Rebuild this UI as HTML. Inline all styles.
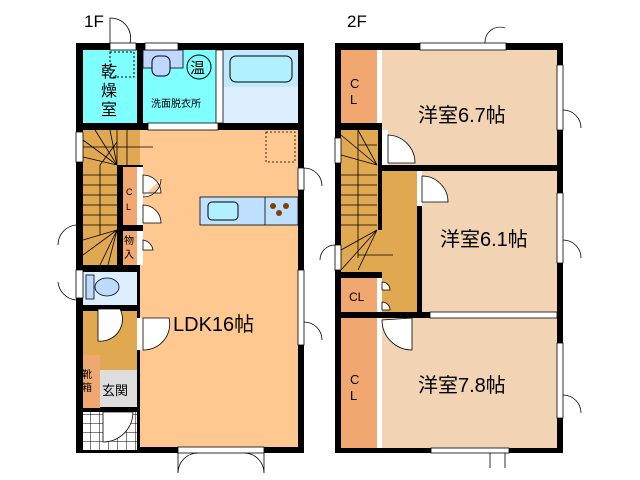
<!DOCTYPE html>
<html><head><meta charset="utf-8"><style>
body{margin:0;background:#fff;width:640px;height:480px;overflow:hidden}
svg{display:block}
text{font-family:"Liberation Sans","Noto Sans CJK JP",sans-serif;fill:#000}
</style></head><body>
<svg width="640" height="480" viewBox="0 0 640 480">
<defs>
<pattern id="tile" width="9" height="9" patternUnits="userSpaceOnUse"><rect width="9" height="9" fill="#fff"/><path d="M0 0H9M0 0V9" stroke="#000" stroke-width="1"/></pattern>
</defs>
<text x="84" y="27" font-size="17">1F</text>
<text x="347" y="27" font-size="17">2F</text>

<!-- ===== 1F ===== -->
<rect x="76" y="43" width="228" height="87" fill="#000"/>
<rect x="76" y="123" width="67" height="330" fill="#000"/>
<rect x="137" y="123" width="167" height="330" fill="#000"/>
<rect x="83" y="50" width="54" height="73" fill="#80ffff"/>
<rect x="143" y="50" width="74" height="73" fill="#80ffff"/>
<rect x="223" y="50" width="75" height="37" fill="#c0e8ff"/>
<rect x="223" y="87" width="75" height="36" fill="#ddeeff"/>
<rect x="230" y="56" width="62" height="26" rx="6" fill="#b0f0ff" stroke="#000"/>
<rect x="143" y="50" width="40" height="18" fill="#c0d8ff" stroke="#000" stroke-width="0.8"/>
<rect x="152" y="56" width="18" height="20" rx="6" fill="#c0d8ff" stroke="#000"/>
<circle cx="199" cy="67" r="12" fill="none" stroke="#000"/>
<text x="190" y="73" font-size="15">温</text>
<text x="151" y="107" font-size="10">洗面脱衣所</text>
<text x="101" y="77" font-size="16">乾</text>
<text x="101" y="96" font-size="16">燥</text>
<text x="101" y="115" font-size="16">室</text>
<rect x="110" y="52" width="24" height="25" fill="none" stroke="#000" stroke-dasharray="2,2"/>
<rect x="140" y="130" width="158" height="317" fill="#ffc890"/>
<rect x="83" y="130" width="57" height="35" fill="#e0a850"/>
<rect x="83" y="130" width="34" height="135" fill="#e0a850"/>
<g stroke="#000" stroke-width="0.8">
<path d="M83 140L117 165M83 157L117 165M95 130L117 165M110 130L117 165M100 165L117 142M117 130V165M127 130V165M83 147H153"/>
<path d="M83 175H117M83 185H117M83 195H117M83 205H117M83 215H117M83 225H117M100 165V235"/>
<path d="M117 230L83 240M117 230L83 255M117 230L100 265M117 230L108 265"/>
</g>
<rect x="117" y="165" width="26" height="100" fill="#000"/>
<rect x="123" y="167" width="14" height="58" fill="#f0a870"/>
<rect x="123" y="231" width="14" height="34" fill="#f0a870"/>
<text x="126" y="195" font-size="9">C</text>
<text x="126" y="210" font-size="9">L</text>
<text x="124" y="244" font-size="10">物</text>
<text x="124" y="258" font-size="10">入</text>
<rect x="137" y="167" width="6" height="58" fill="#fff"/>
<rect x="137" y="231" width="6" height="34" fill="#fff"/>
<path d="M143 175a18 18 0 0 1 18 18H143ZM143 197a18 18 0 0 0 18 -18M143 205a18 18 0 0 1 18 18H143Z" fill="#fff" stroke="#000" stroke-width="0.8"/>
<path d="M143 240a12 12 0 0 1 10 10H143Z" fill="#fff" stroke="#000" stroke-width="0.8"/>
<rect x="83" y="272" width="54" height="33" fill="#ddeeff"/>
<rect x="86" y="275" width="8" height="24" fill="#bcdcff" stroke="#000" stroke-width="0.8"/>
<ellipse cx="107" cy="287" rx="12" ry="9" fill="#bcdcff" stroke="#000" stroke-width="0.8"/>
<rect x="83" y="311" width="54" height="59" fill="#e0a850"/>
<rect x="83" y="355" width="17" height="53" fill="#f0a870"/>
<rect x="100" y="370" width="37" height="37" fill="#dddddd"/>
<text x="82" y="378" font-size="10">靴</text>
<text x="82" y="391" font-size="10">箱</text>
<text x="102" y="395" font-size="13">玄関</text>
<rect x="83" y="412" width="54" height="38" fill="url(#tile)"/>
<path d="M98 309v32a22 22 0 0 0 22 -32Z" fill="#fff" stroke="#000" stroke-width="0.8"/>
<path d="M103 412v30a30 30 0 0 0 30 -30Z" fill="#fff" stroke="#000" stroke-width="0.8"/>
<rect x="137" y="318" width="6" height="32" fill="#fff"/>
<path d="M143 350a26 26 0 0 0 26 -32H143Z" fill="#fff" stroke="#000" stroke-width="0.8"/>
<rect x="200" y="197" width="98" height="28" fill="#bfe0ff" stroke="#000" stroke-width="0.8"/>
<line x1="265" y1="197" x2="265" y2="225" stroke="#000" stroke-width="0.8"/>
<rect x="208" y="202" width="30" height="18" rx="4" fill="#b0f0ff" stroke="#000"/>
<circle cx="273" cy="206" r="3" fill="#804000"/><circle cx="286" cy="206" r="3" fill="#804000"/><circle cx="279" cy="213" r="3" fill="#804000"/>
<rect x="266" y="132" width="29" height="30" fill="none" stroke="#000" stroke-width="0.8" stroke-dasharray="2,2"/>
<text x="173" y="331" font-size="20">LDK16帖</text>
<g fill="#fff" stroke="#000" stroke-width="0.8">
<rect x="110" y="43" width="26" height="7"/><rect x="145" y="43" width="33" height="7"/>
<rect x="148" y="123" width="70" height="7"/>
<rect x="76" y="132" width="7" height="30"/><rect x="76" y="270" width="7" height="28"/>
<rect x="298" y="168" width="6" height="22"/><rect x="298" y="270" width="6" height="75"/>
<rect x="178" y="447" width="86" height="6"/>
<rect x="216" y="50" width="7" height="73"/>
</g>
<path d="M110 43v-25a20 20 0 0 1 20 25M304 168a18 18 0 0 1 18 18M76 300a20 20 0 0 1 -18 -18M304 322a18 18 0 0 1 18 18M178 453v20a20 20 0 0 1 20 -20M264 453v20a20 20 0 0 0 -20 -20M76 225a20 20 0 0 0 -18 20" fill="none" stroke="#000" stroke-width="0.8"/>

<!-- ===== 2F ===== -->
<rect x="335" y="43" width="228" height="410" fill="#000"/>
<rect x="341" y="50" width="36" height="73" fill="#f0a870"/>
<rect x="382" y="50" width="175" height="115" fill="#f2d4b4"/>
<rect x="341" y="130" width="37" height="142" fill="#e0a850"/>
<rect x="382" y="171" width="35" height="141" fill="#e0a850"/>
<rect x="378" y="230" width="10" height="42" fill="#e0a850"/>
<rect x="422" y="171" width="135" height="141" fill="#f2d4b4"/>
<rect x="341" y="278" width="36" height="34" fill="#f0a870"/>
<rect x="341" y="318" width="36" height="130" fill="#f0a870"/>
<rect x="382" y="318" width="175" height="130" fill="#f2d4b4"/>
<rect x="377" y="50" width="5" height="73" fill="#fff"/>
<rect x="377" y="318" width="5" height="130" fill="#fff"/>
<rect x="377" y="278" width="5" height="34" fill="#fff"/>
<rect x="382" y="130" width="6" height="35" fill="#fff"/>
<rect x="417" y="171" width="5" height="35" fill="#fff"/>
<g stroke="#000" stroke-width="0.8" fill="none">
<path d="M341 135L377 165M341 155L377 165M358 130L377 165M358 145H377M341 175H377M341 185H377M341 195H377M341 205H377M341 215H377M341 225H377M358 130V258M377 230L341 270M377 230L358 270M377 230L341 250M358 255H393"/>
</g>
<path d="M388 135a28 28 0 0 1 27 28H388Z" fill="#fff" stroke="#000" stroke-width="0.8"/>
<path d="M422 176a26 26 0 0 1 26 26H422Z" fill="#fff" stroke="#000" stroke-width="0.8"/>
<path d="M382 320a30 30 0 0 0 30 30V318Z" fill="#fff" stroke="#000" stroke-width="0.8"/>
<path d="M382 282a8 8 0 0 1 8 8H382ZM382 302a8 8 0 0 1 8 8H382Z" fill="#fff" stroke="#000" stroke-width="0.8"/>
<text x="350" y="88" font-size="13">C</text><text x="350" y="104" font-size="13">L</text>
<text x="349" y="301" font-size="12">CL</text>
<text x="350" y="384" font-size="13">C</text><text x="350" y="400" font-size="13">L</text>
<text x="418" y="122" font-size="20">洋室6.7帖</text>
<text x="440" y="246" font-size="20">洋室6.1帖</text>
<text x="418" y="392" font-size="20">洋室7.8帖</text>
<g fill="#fff" stroke="#000" stroke-width="0.8">
<rect x="420" y="43" width="86" height="7"/><rect x="557" y="65" width="6" height="65"/>
<rect x="557" y="193" width="6" height="70"/><rect x="557" y="343" width="6" height="75"/>
<rect x="335" y="138" width="6" height="25"/><rect x="335" y="245" width="6" height="25"/>
<rect x="431" y="448" width="78" height="5"/><rect x="430" y="312" width="127" height="6"/>
</g>
<path d="M485 43a15 15 0 0 1 20 -15M563 110a18 18 0 0 1 18 18M563 240a18 18 0 0 1 18 18M563 395a18 18 0 0 1 18 18M335 245a15 15 0 0 0 -15 15M490 453v15M505 453v15" fill="none" stroke="#000" stroke-width="0.8"/>
</svg>
</body></html>
